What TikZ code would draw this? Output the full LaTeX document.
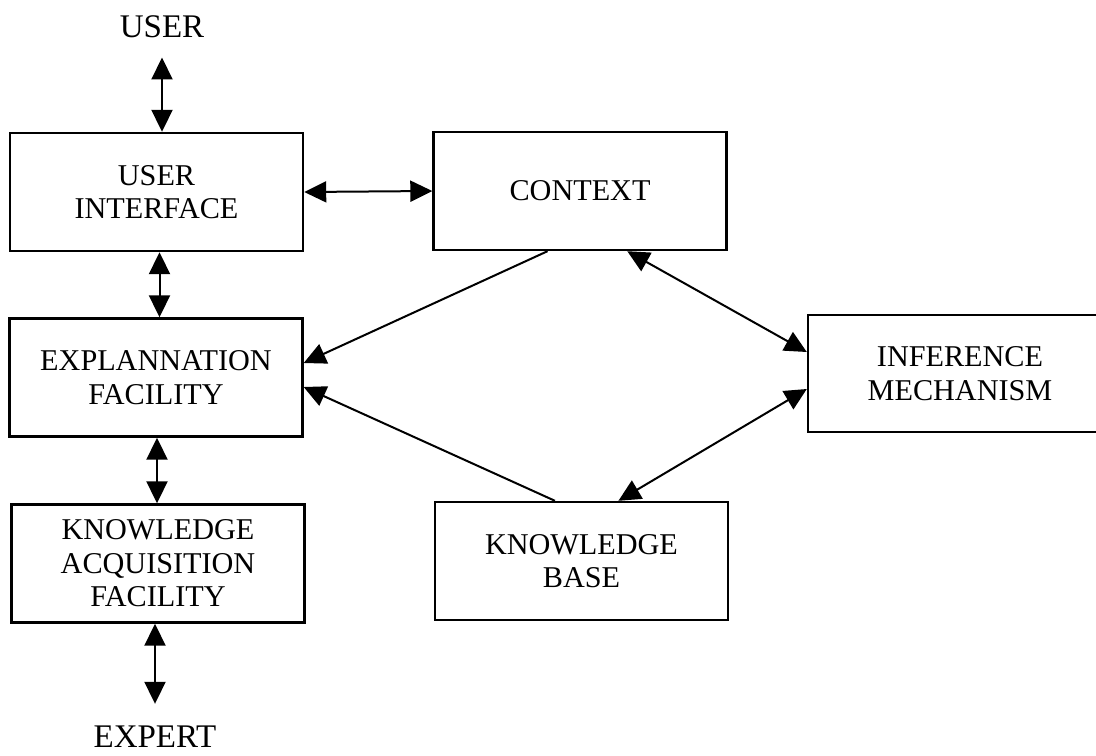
\documentclass[tikz,border=0pt]{standalone}
\usepackage{fontspec}
\setmainfont{Liberation Serif}
\usetikzlibrary{arrows.meta,calc}
\begin{document}
\begin{tikzpicture}[x=0.5pt,y=-0.5pt,
  block/.style={draw, line width=1.2pt, minimum width=146.5pt, minimum height=59pt,
    align=center, inner sep=2pt, font=\fontsize{15.1}{16.8}\selectfont},
  endlabel/.style={inner xsep=2pt, font=\fontsize{16.5}{19}\selectfont},
  dbl/.style={line width=1pt, {Triangle[length=11pt,width=10.5pt]}-{Triangle[length=11pt,width=10.5pt]}},
  one/.style={line width=1pt, -{Triangle[length=11pt,width=10.5pt]}}]
\clip (0,0) rectangle (1096,755);
\fill[white] (0,0) rectangle (1096,755);

% outer actors
\node[endlabel, inner ysep=9.5pt] (user) at (162,27) {USER};
\node[endlabel, inner ysep=11pt] (expert) at (155,737) {EXPERT};

% components
\node[block] (ui)  at (156.5,192) {USER\\INTERFACE};
\node[block] (ctx) at (580,191) {CONTEXT};
\node[block] (ef)  at (156,377.5) {EXPLANNATION\\FACILITY};
\node[block, minimum width=152pt, minimum height=58.5pt] (im) at (960,373.5) {INFERENCE\\MECHANISM};
\node[block] (kaf) at (158,563.5) {KNOWLEDGE\\ACQUISITION\\FACILITY};
\node[block] (kb)  at (581.5,561) {KNOWLEDGE\\BASE};

% vertical chain on the left
\draw[dbl] (user.south) -- (user.south |- ui.north);
\draw[dbl] ([xshift=1.5pt]ui.south) -- ([xshift=1.5pt]ui.south |- ef.north);
\draw[dbl] ([xshift=0.5pt]ef.south) -- ([xshift=0.5pt]ef.south |- kaf.north);
\draw[dbl] ([xshift=-1.5pt]kaf.south) -- ([xshift=-1.5pt]kaf.south |- expert.north);

% user interface <-> context
\draw[dbl] (ui.east) -- (ctx.west);

% context and knowledge base feed the explanation facility
\draw[one] ($(ctx.south west)!0.39!(ctx.south east)$) -- ([yshift=7.25pt]ef.east);
\draw[one] ($(kb.north west)!0.41!(kb.north east)$) -- ([yshift=-4.75pt]ef.east);

% inference mechanism links
\draw[dbl] ($(ctx.south west)!0.66!(ctx.south east)$) -- ([yshift=10.75pt]im.west);
\draw[dbl] ([yshift=-7.75pt]im.west) -- ($(kb.north west)!0.625!(kb.north east)$);
\end{tikzpicture}
\end{document}
